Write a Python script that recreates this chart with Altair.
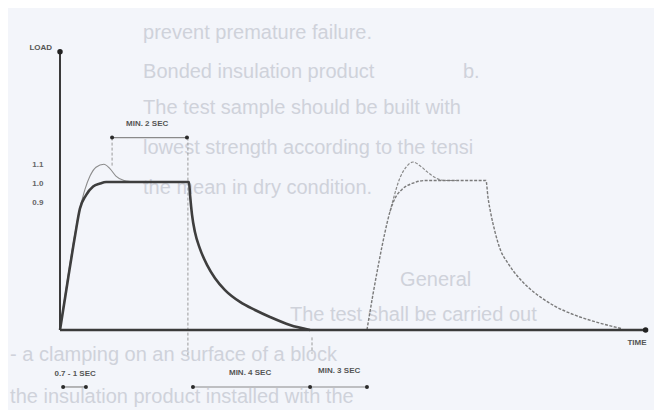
import altair as alt
import pandas as pd

# ---------------- data (time in s-like schematic units, load relative) -------------
# first pulse, thick solid line
p1_t = [0, 0.33, 0.63, 0.83, 1.08, 1.38, 1.67, 1.92, 5.375, 5.42, 5.5, 5.625, 5.83,
        6.125, 6.46, 6.875, 7.5, 8.125, 8.75, 9.58, 10.42]
p1_L = [0, 0.34, 0.64, 0.82, 0.91, 0.97, 0.99, 1.0, 1.0, 0.91, 0.78, 0.66, 0.55,
        0.44, 0.35, 0.27, 0.19, 0.135, 0.088, 0.034, 0]
# first pulse, thin overshoot line
o1_t = [0, 0.83, 1.04, 1.25, 1.50, 1.83, 2.08, 2.33, 2.67, 3.13]
o1_L = [0, 0.82, 0.95, 1.04, 1.10, 1.12, 1.09, 1.04, 1.01, 1.0]
# second pulse, smooth line (shares decay)
s2_t = [12.79, 13.04, 13.29, 13.54, 13.75, 13.96, 14.25, 14.67, 15.21, 17.75, 17.83,
        17.96, 18.13, 18.33, 18.67, 19.08, 19.5, 20.04, 20.63, 21.46, 22.42, 23.38]
s2_L = [0, 0.24, 0.46, 0.66, 0.80, 0.89, 0.95, 0.99, 1.01, 1.01, 0.90,
        0.78, 0.66, 0.55, 0.45, 0.36, 0.29, 0.22, 0.16, 0.10, 0.05, 0.01]
# second pulse, overshoot line
o2_t = [13.75, 13.88, 14.17, 14.42, 14.71, 15.0, 15.29, 15.63, 16.04, 16.5]
o2_L = [0.80, 0.88, 1.03, 1.10, 1.135, 1.11, 1.07, 1.03, 1.01, 1.01]

# axes
axis_x_end = 24.4
axis_y_end = 1.88
# dashed guides
g_t = [2.17, 5.33, 10.5]
g_top = [1.30, 1.30, -0.05]
g_bot = [1.10, -0.17, -0.16]
# dimension lines
d_t1 = [2.17, 0.13, 5.54, 10.42]
d_t2 = [5.29, 1.08, 10.42, 12.79]
d_L = [1.30, -0.385, -0.385, -0.385]
dot_t = [2.17, 5.29, 0.13, 1.08, 5.54, 10.42, 12.79]
dot_L = [1.30, 1.30, -0.385, -0.385, -0.385, -0.385, -0.385]
d_text = ["MIN. 2 SEC", "0.7 - 1 SEC", "MIN. 4 SEC", "MIN. 3 SEC"]
d_text_t = [3.63, 0.63, 7.92, 11.63]
d_text_L = [1.39, -0.30, -0.29, -0.28]
# tick labels on the load axis
tick_text = ["1.1", "1.0", "0.9"]
tick_L = [1.115, 0.986, 0.858]
tick_t = -0.92
# axis names
ax_text = ["LOAD", "TIME"]
ax_t = [-0.33, 24.04]
ax_L = [1.905, -0.088]
# faint show-through text of the scanned page
bg_text = ["prevent premature failure.", "Bonded insulation product", "b.",
           "The test sample should be built with", "lowest strength according to the tensi",
           "the mean in dry condition.", "General", "The test shall be carried out",
           "- a clamping on an surface of a block", "the insulation product installed with the"]
bg_t = [3.46, 3.46, 16.79, 3.46, 3.46, 3.46, 14.17, 9.58, -2.08, -2.08]
bg_L = [2.01, 1.74, 1.74, 1.50, 1.23, 0.96, 0.34, 0.10, -0.17, -0.45]

# ---------------- scales ----------------
X = alt.Scale(domain=[-52 / 24, 594 / 24], nice=False, zero=False)
Y = alt.Scale(domain=[-80 / 148, 322 / 148], nice=False, zero=False)


def xe(f="t"):
    return alt.X(f, type="quantitative", scale=X, axis=None)


def ye(f="L"):
    return alt.Y(f, type="quantitative", scale=Y, axis=None)


def line_df(t, L):
    return pd.DataFrame({"t": t, "L": L, "o": list(range(len(t)))})


bg = alt.Chart(pd.DataFrame({"t": bg_t, "L": bg_L, "s": bg_text})).mark_text(
    align="left", baseline="middle", fontSize=20, font="Liberation Sans",
    color="#cfd2da").encode(x=xe(), y=ye(), text="s:N")

guides = alt.Chart(pd.DataFrame({"t": g_t, "a": g_top, "b": g_bot})).mark_rule(
    color="#9a9a9a", strokeWidth=1, strokeDash=[3, 2]).encode(
    x=xe(), y=ye("a"), y2="b")

yaxis = alt.Chart(pd.DataFrame({"t": [0], "a": [0], "b": [axis_y_end]})).mark_rule(
    color="#3a3a3a", strokeWidth=2).encode(x=xe(), y=ye("a"), y2="b")
xaxis = alt.Chart(pd.DataFrame({"t": [0], "b": [axis_x_end], "L": [0]})).mark_rule(
    color="#3a3a3a", strokeWidth=2.4).encode(x=xe(), x2="b", y=ye())
axis_dots = alt.Chart(pd.DataFrame({"t": [0, axis_x_end], "L": [axis_y_end, 0]})).mark_point(
    filled=True, color="#222", size=30, opacity=1).encode(x=xe(), y=ye())

p1 = alt.Chart(line_df(p1_t, p1_L)).mark_line(
    color="#3e3e3e", strokeWidth=2.6, interpolate="monotone").encode(x=xe(), y=ye(), order="o")
o1 = alt.Chart(line_df(o1_t, o1_L)).mark_line(
    color="#8c8c8c", strokeWidth=1.1, interpolate="monotone").encode(x=xe(), y=ye(), order="o")
s2 = alt.Chart(line_df(s2_t, s2_L)).mark_line(
    color="#7a7a7a", strokeWidth=1.4, strokeDash=[3, 1.5], interpolate="monotone").encode(
    x=xe(), y=ye(), order="o")
o2 = alt.Chart(line_df(o2_t, o2_L)).mark_line(
    color="#8a8a8a", strokeWidth=1.2, strokeDash=[3, 1.5], interpolate="monotone").encode(
    x=xe(), y=ye(), order="o")

dims = alt.Chart(pd.DataFrame({"t": d_t1, "b": d_t2, "L": d_L})).mark_rule(
    color="#8a8a8a", strokeWidth=1.2).encode(x=xe(), x2="b", y=ye())
dim_dots = alt.Chart(pd.DataFrame({"t": dot_t, "L": dot_L})).mark_point(
    filled=True, color="#2a2a2a", size=16, opacity=1).encode(x=xe(), y=ye())
dim_text = alt.Chart(pd.DataFrame({"t": d_text_t, "L": d_text_L, "s": d_text})).mark_text(
    align="center", baseline="middle", fontSize=8, fontWeight="bold",
    font="Liberation Sans", color="#555").encode(x=xe(), y=ye(), text="s:N")

ticks = alt.Chart(pd.DataFrame({"t": [tick_t] * 3, "L": tick_L, "s": tick_text})).mark_text(
    align="center", baseline="middle", fontSize=8, fontWeight="bold",
    font="Liberation Sans", color="#666").encode(x=xe(), y=ye(), text="s:N")

load_lbl = alt.Chart(pd.DataFrame({"t": ax_t[:1], "L": ax_L[:1], "s": ax_text[:1]})).mark_text(
    align="right", baseline="middle", fontSize=8, fontWeight="bold",
    font="Liberation Sans", color="#555").encode(x=xe(), y=ye(), text="s:N")
time_lbl = alt.Chart(pd.DataFrame({"t": ax_t[1:], "L": ax_L[1:], "s": ax_text[1:]})).mark_text(
    align="center", baseline="middle", fontSize=8, fontWeight="bold",
    font="Liberation Sans", color="#555").encode(x=xe(), y=ye(), text="s:N")

chart = alt.layer(bg, guides, dims, o1, p1, o2, s2, yaxis, xaxis, axis_dots, dim_dots,
                  dim_text, ticks, load_lbl, time_lbl).properties(
    width=646, height=402, padding=0,
    autosize=alt.AutoSizeParams(type="none"),
    background="#f3f5fa",
).configure_view(stroke=None)

chart.save("out.html", embed_options={"renderer": "svg", "actions": False})
